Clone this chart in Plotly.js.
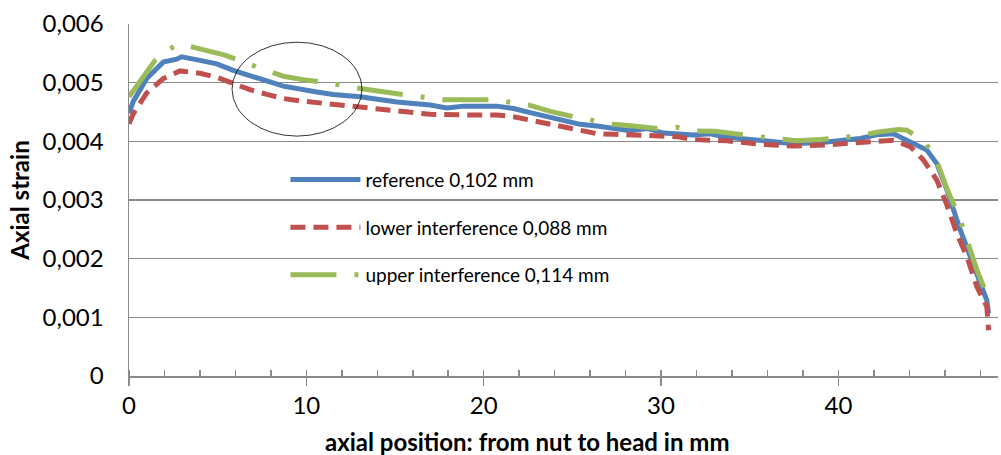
<!DOCTYPE html>
<html>
<head>
<meta charset="utf-8">
<script src="https://cdn.plot.ly/plotly-3.0.1.min.js"></script>
<style>html,body{margin:0;padding:0;background:#fff;}#chart{width:1001px;height:455px;}</style>
</head>
<body>
<div id="chart"></div>
<script>
// Reference 0,102 mm
const refX = [0, 0.24, 1.0, 1.93, 2.69, 2.97, 4.0, 4.95, 5.88, 6.82, 7.77, 8.70, 9.64, 10.59, 11.52, 13.03, 15.10, 16.98, 17.92, 18.86, 20.74, 21.68, 22.62, 23.56, 24.5, 25.44, 26.38, 27.32, 28.26, 29.2, 30.14, 31.83, 32.77, 33.71, 35.59, 37.47, 39.35, 41.23, 42.17, 43.11, 44.05, 44.99, 45.55, 46.11, 46.87, 47.62, 48.37, 48.47];
const refY = [0.00448, 0.00468, 0.00507, 0.00535, 0.00540, 0.00544, 0.00538, 0.00532, 0.00521, 0.00511, 0.00503, 0.00494, 0.00488, 0.00484, 0.00480, 0.00476, 0.00467, 0.00462, 0.00457, 0.00460, 0.00460, 0.00456, 0.00449, 0.00442, 0.00435, 0.00429, 0.00426, 0.00422, 0.00418, 0.00422, 0.00414, 0.00411, 0.00413, 0.00407, 0.00401, 0.00396, 0.00399, 0.00405, 0.00411, 0.00413, 0.00399, 0.00385, 0.00362, 0.00318, 0.00249, 0.00186, 0.00129, 0.00107];
// Lower interference 0,088 mm
const lowX = [0, 0.24, 0.99, 1.93, 2.88, 4.0, 4.95, 5.88, 6.82, 7.77, 8.70, 9.64, 10.59, 11.52, 13.21, 15.10, 16.98, 18.86, 20.74, 21.68, 22.62, 23.56, 24.50, 25.44, 26.38, 27.32, 28.26, 30.14, 30.89, 31.83, 33.71, 35.59, 37.47, 39.35, 41.23, 43.11, 44.05, 44.80, 45.55, 46.11, 46.68, 47.25, 47.81, 48.37, 48.47];
const lowY = [0.00430, 0.00447, 0.00482, 0.00507, 0.00520, 0.00516, 0.00509, 0.00498, 0.00488, 0.00480, 0.00473, 0.00469, 0.00466, 0.00462, 0.00456, 0.00450, 0.00446, 0.00445, 0.00445, 0.00442, 0.00436, 0.00429, 0.00425, 0.00419, 0.00413, 0.00412, 0.00411, 0.00408, 0.00408, 0.00403, 0.00401, 0.00395, 0.00392, 0.00394, 0.00397, 0.00402, 0.00391, 0.00368, 0.00334, 0.00292, 0.00243, 0.00203, 0.00152, 0.00118, 0.00078];
// Upper interference 0,114 mm
const upX = [0, 0.43, 0.81, 1.47, 2.31, 2.88, 3.63, 4.38, 5.41, 6.64, 7.77, 8.70, 9.83, 11.15, 13.03, 14.44, 15.66, 17.73, 19.14, 20.55, 22.52, 23.76, 25.06, 27.32, 28.44, 29.76, 30.89, 31.74, 33.05, 34.28, 36.34, 37.66, 38.97, 41.04, 42.26, 43.39, 43.86, 44.9, 45.65, 46.11, 46.87, 47.40, 47.81, 48.56];
const upY = [0.00476, 0.00493, 0.00510, 0.00538, 0.00558, 0.00566, 0.00561, 0.00554, 0.00547, 0.00533, 0.00521, 0.00511, 0.00505, 0.00500, 0.00490, 0.00483, 0.00479, 0.00471, 0.00472, 0.00471, 0.00462, 0.00451, 0.00442, 0.00429, 0.00426, 0.00422, 0.00424, 0.00418, 0.00417, 0.00412, 0.00405, 0.00401, 0.00403, 0.00409, 0.00416, 0.00420, 0.00419, 0.00399, 0.00358, 0.00320, 0.00266, 0.00218, 0.00181, 0.00124];

const seriesNames = ['reference 0,102 mm', 'lower interference 0,088 mm', 'upper interference 0,114 mm'];
const yTickVals = [0, 0.001, 0.002, 0.003, 0.004, 0.005, 0.006];
const yTickText = ['0', '0,001', '0,002', '0,003', '0,004', '0,005', '0,006'];
const xTickVals = [0, 10, 20, 30, 40];
const xTickText = ['0', '10', '20', '30', '40'];
const xTitle = 'axial position: from nut to head in mm';
const yTitle = 'Axial strain';

const FONT = 'Lato, "Open Sans", sans-serif';
const GRID = '#8a8a8a';

const traces = [
  {x: refX, y: refY, name: seriesNames[0], mode: 'lines', legendgroup: 'a',
   line: {color: '#4F81BD', width: 5}},
  {x: lowX, y: lowY, name: seriesNames[1], mode: 'lines', legendgroup: 'b',
   line: {color: '#C0504D', width: 5, dash: '15px,8px'}},
  {x: upX, y: upY, name: seriesNames[2], mode: 'lines', legendgroup: 'c',
   line: {color: '#9BBB59', width: 5, dash: '46px,18px,4px,18px'}}
];

const layout = {
  width: 1001, height: 455,
  margin: {l: 129, r: 3, t: 24, b: 79},
  paper_bgcolor: '#fff', plot_bgcolor: 'rgba(0,0,0,0)',
  font: {family: FONT, color: '#000'},
  showlegend: true,
  legend: {x: 0.18, y: 0.612, xanchor: 'left', yanchor: 'top',
           bgcolor: 'rgba(0,0,0,0)', font: {size: 19, family: FONT, color: '#000'},
           tracegroupgap: 20, itemwidth: 70, traceorder: 'grouped'},
  xaxis: {range: [0, 49], showgrid: false, zeroline: false,
          showline: true, linecolor: GRID, linewidth: 1.5,
          tickvals: xTickVals, ticktext: xTickText,
          ticks: 'outside', ticklen: 8, tickcolor: GRID, tickwidth: 1.5,
          minor: {dtick: 2, tick0: 0, ticks: 'inside', ticklen: 6, tickcolor: GRID, tickwidth: 1.5, showgrid: false},
          tickfont: {size: 24, family: FONT}},
  yaxis: {range: [0, 0.006], showgrid: true, gridcolor: GRID, gridwidth: 1.5,
          zeroline: false, showline: true, linecolor: GRID, linewidth: 1.5,
          tickvals: yTickVals, ticktext: yTickText, ticks: '',
          ticklabelstandoff: 19,
          tickfont: {size: 24, family: FONT},
          title: {text: '<b>' + yTitle + '</b>', font: {size: 24, family: FONT}, standoff: 6}},
  annotations: [
    {text: '<b>' + xTitle + '</b>', xref: 'paper', yref: 'paper', x: 0.459, y: -0.187,
     xanchor: 'center', yanchor: 'middle', showarrow: false, font: {size: 24, family: FONT, color: '#000'}}
  ],
  shapes: [
    {type: 'circle', xref: 'x', yref: 'y', x0: 5.81, x1: 13.14, y0: 0.004089, y1: 0.00569,
     line: {color: '#000', width: 0.8}, fillcolor: 'rgba(0,0,0,0)'}
  ]
};

Plotly.newPlot('chart', traces, layout, {displayModeBar: false, staticPlot: true});
</script>
</body>
</html>
